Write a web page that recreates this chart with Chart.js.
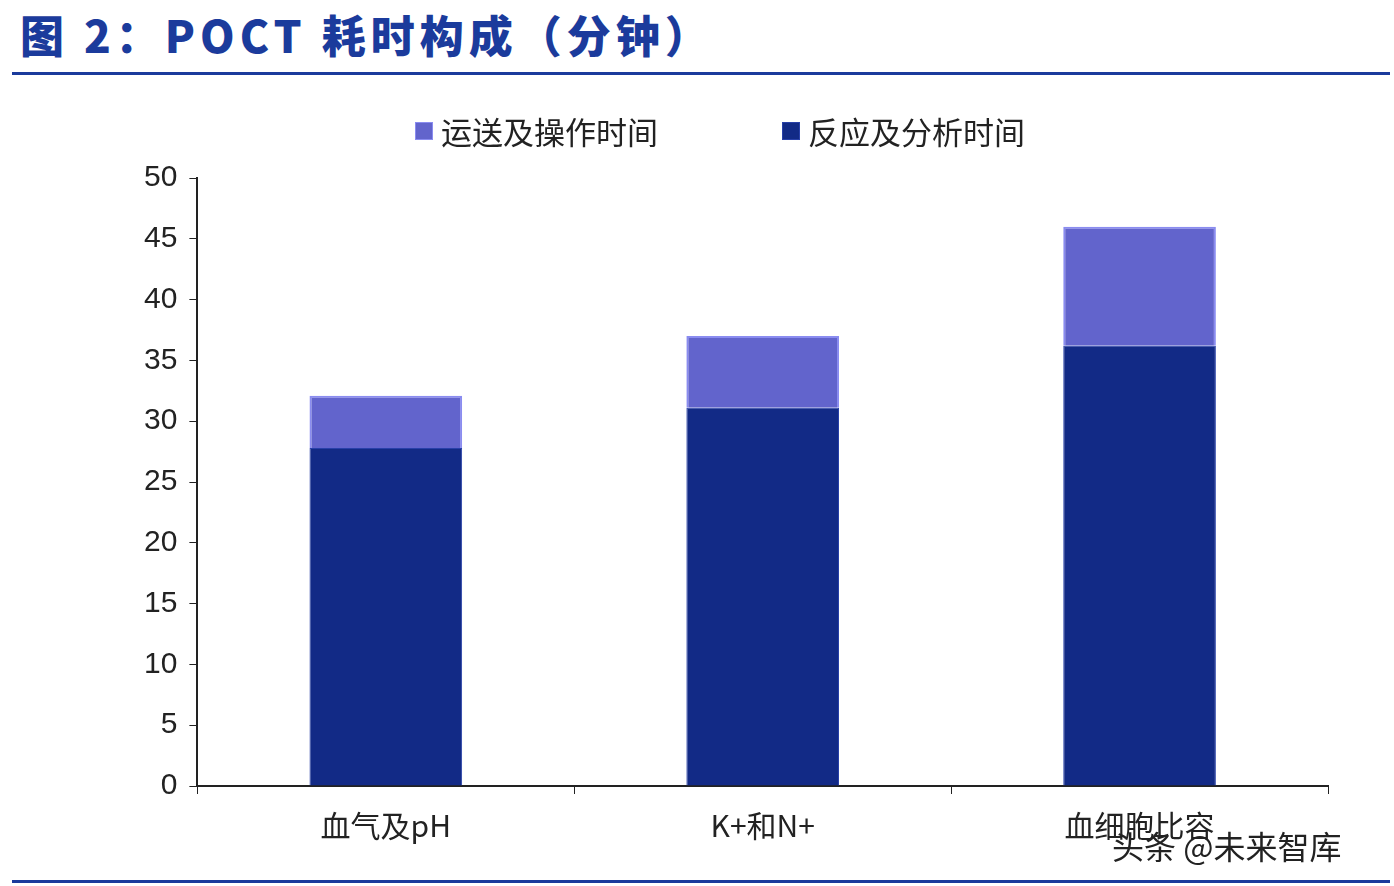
<!DOCTYPE html>
<html>
<head>
<meta charset="utf-8">
<script src="https://cdn.jsdelivr.net/npm/chart.js@4/dist/chart.umd.min.js"></script>
<style>
  body { margin: 0; background: #fff; font-family: "Noto Sans CJK SC", "Liberation Sans", sans-serif; }
  #title { position: absolute; left: 20px; top: 2px; font-size: 44px; font-weight: 900; color: #1B3B9C; letter-spacing: 5px; }
  .rule { position: absolute; left: 12px; width: 1378px; height: 3px; background: #1B3B9C; }
  #wrap { position: absolute; left: 0; top: 92px; width: 1394px; height: 766px; }
  #wm { position: absolute; left: 1112px; top: 822px; font-size: 32px; color: #222; }
  #legend { position: absolute; left: 415px; top: 108px; font-size: 31px; color: #222; display: flex; gap: 124px; }
  #legend span { display: inline-flex; align-items: center; }
  #legend i { display: inline-block; width: 16px; height: 16px; margin-right: 8px; }
</style>
</head>
<body>
<div id="title">图 2：POCT 耗时构成（分钟）</div>
<div class="rule" style="top:72px"></div>
<div id="wrap"><canvas id="c"></canvas></div>
<div id="legend"></div>
<div class="rule" style="top:880px"></div>
<div id="wm">头条 @未来智库</div>
<script>
const categories = ['血气及pH', 'K+和N+', '血细胞比容'];
const reactionTime = [27.8, 31.1, 36.2];
const transportTime = [4.3, 5.9, 9.8];
const yTicks = [0, 5, 10, 15, 20, 25, 30, 35, 40, 45, 50];

const chart = new Chart(document.getElementById('c'), {
  type: 'bar',
  data: {
    labels: categories,
    datasets: [
      { label: '反应及分析时间', data: reactionTime, backgroundColor: '#122A86', borderColor: '#2840A8', borderWidth: 1, barPercentage: 0.405, categoryPercentage: 1 },
      { label: '运送及操作时间', data: transportTime, backgroundColor: '#6264CC', borderColor: '#8A8CF0', borderWidth: 2, barPercentage: 0.405, categoryPercentage: 1 }
    ]
  },
  options: {
    responsive: true,
    maintainAspectRatio: false,
    animation: false,
    layout: { padding: { left: 132, right: 66, top: 86, bottom: 0 } },
    plugins: {
      legend: { display: false },
      tooltip: { enabled: false }
    },
    scales: {
      x: {
        stacked: true,
        grid: { drawOnChartArea: false, color: '#222', tickLength: 8, offset: true },
        border: { color: '#222', width: 2 },
        ticks: { color: '#222', padding: 14, font: { size: 30, family: 'Noto Sans CJK SC' } }
      },
      y: {
        stacked: true,
        min: 0, max: 50,
        afterBuildTicks: axis => { axis.ticks = yTicks.map(v => ({ value: v })); },
        grid: { drawOnChartArea: false, color: '#222', tickLength: 8 },
        border: { color: '#222', width: 2 },
        ticks: { color: '#222', padding: 12, font: { size: 30, family: 'Liberation Sans' } }
      }
    }
  }
});

// legend in reverse dataset order, as in the original
document.getElementById('legend').innerHTML = chart.data.datasets.slice().reverse()
  .map(d => `<span><i style="background:${d.backgroundColor};border:1px solid ${d.borderColor}"></i>${d.label}</span>`).join('');
</script>
</body>
</html>
